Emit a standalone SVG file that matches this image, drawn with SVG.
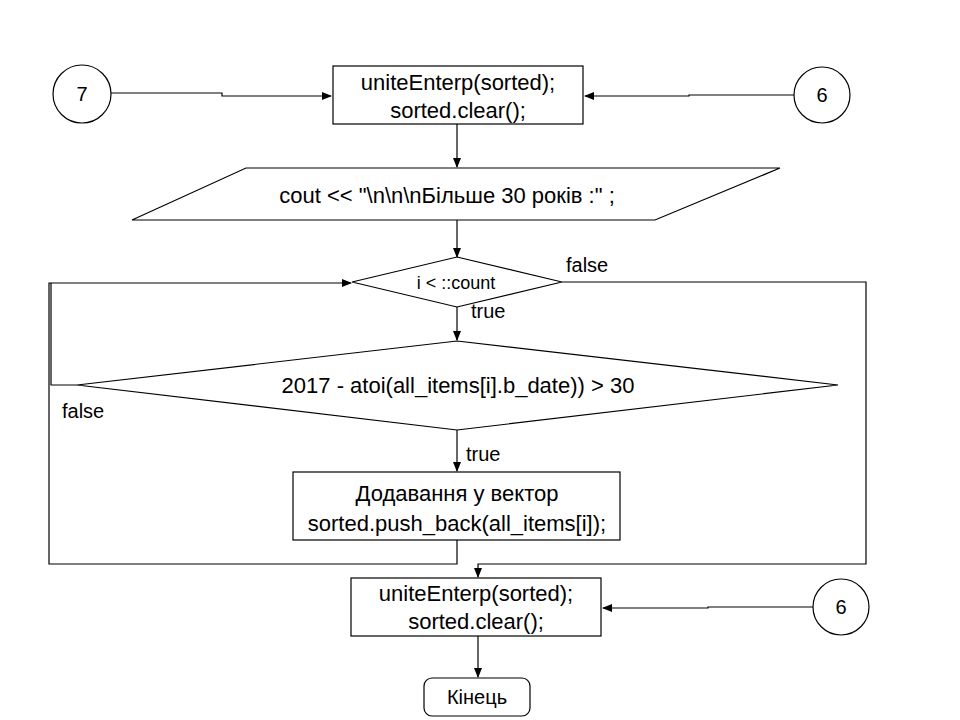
<svg xmlns="http://www.w3.org/2000/svg" width="960" height="720" viewBox="0 0 960 720">
<defs>
<style>
.s{fill:#fff;stroke:#000;stroke-width:1.2}
.c{fill:none;stroke:#000;stroke-width:1.2}
.t{font-family:"Liberation Sans",Arial,sans-serif;font-size:22px;fill:#000;text-anchor:middle}
.l{font-family:"Liberation Sans",Arial,sans-serif;font-size:20px;fill:#000}
</style>
<marker id="a" markerWidth="10" markerHeight="8" refX="9" refY="4" orient="auto" markerUnits="userSpaceOnUse">
<path d="M0,0 L10,4 L0,8 Z" fill="#000"/>
</marker>
</defs>
<rect width="960" height="720" fill="#fff"/>
<g id="connectors">
<polyline class="c" points="111,93 222,93 222,96 331,96" marker-end="url(#a)"/>
<polyline class="c" points="794,95 689,95 689,96 585,96" marker-end="url(#a)"/>
<line class="c" x1="457" y1="124" x2="457" y2="167" marker-end="url(#a)"/>
<line class="c" x1="457" y1="220" x2="457" y2="257" marker-end="url(#a)"/>
<line class="c" x1="457" y1="307" x2="457" y2="340" marker-end="url(#a)"/>
<polyline class="c" points="562,282 866,282 866,564 478,564 478,577" marker-end="url(#a)"/>
<polyline class="c" points="77,385 51,385 51,283"/>
<polyline class="c" points="457,540 457,564 49,564 49,283 351,283" marker-end="url(#a)"/>
<line class="c" x1="457" y1="430" x2="457" y2="471" marker-end="url(#a)"/>
<polyline class="c" points="813,607 708,607 708,608 603,608" marker-end="url(#a)"/>
<line class="c" x1="478" y1="636" x2="478" y2="677" marker-end="url(#a)"/>
<text class="l" x="566" y="272">false</text>
<text class="l" x="471" y="318">true</text>
<text class="l" x="62" y="418">false</text>
<text class="l" x="466" y="461">true</text>
</g>
<g id="c7">
<circle class="s" cx="82" cy="94" r="29"/>
<text class="t" x="82" y="101" style="font-size:20px">7</text>
</g>
<g id="c6a">
<circle class="s" cx="822" cy="95" r="28"/>
<text class="t" x="822" y="102" style="font-size:20px">6</text>
</g>
<g id="box1">
<rect class="s" x="333" y="66" width="250" height="58"/>
<text class="t" x="458" y="90">uniteEnterp(sorted);</text>
<text class="t" x="458" y="118">sorted.clear();</text>
</g>
<g id="out">
<polygon class="s" points="246,168 780,168 655,220 132,220"/>
<text class="t" x="447" y="203">cout &lt;&lt; "\n\n\nБільше 30 років :" ;</text>
</g>
<g id="d1">
<polygon class="s" points="457,257 562,282 457,307 352,282"/>
<text class="t" x="456" y="289" style="font-size:18px">i &lt; ::count</text>
</g>
<g id="d2">
<polygon class="s" points="457,341 838,385 457,430 77,385"/>
<text class="t" x="458" y="393">2017 - atoi(all_items[i].b_date)) &gt; 30</text>
</g>
<g id="box2">
<rect class="s" x="293" y="472" width="327" height="68"/>
<text class="t" x="457" y="501">Додавання у вектор</text>
<text class="t" x="457" y="531">sorted.push_back(all_items[i]);</text>
</g>
<g id="box3">
<rect class="s" x="351" y="578" width="250" height="58"/>
<text class="t" x="476" y="601">uniteEnterp(sorted);</text>
<text class="t" x="476" y="629">sorted.clear();</text>
</g>
<g id="c6b">
<circle class="s" cx="841" cy="607" r="28"/>
<text class="t" x="841" y="614" style="font-size:20px">6</text>
</g>
<g id="end">
<rect class="s" x="424" y="678" width="106" height="38" rx="8"/>
<text class="t" x="477" y="704" style="font-size:20px">Кінець</text>
</g>
</svg>
